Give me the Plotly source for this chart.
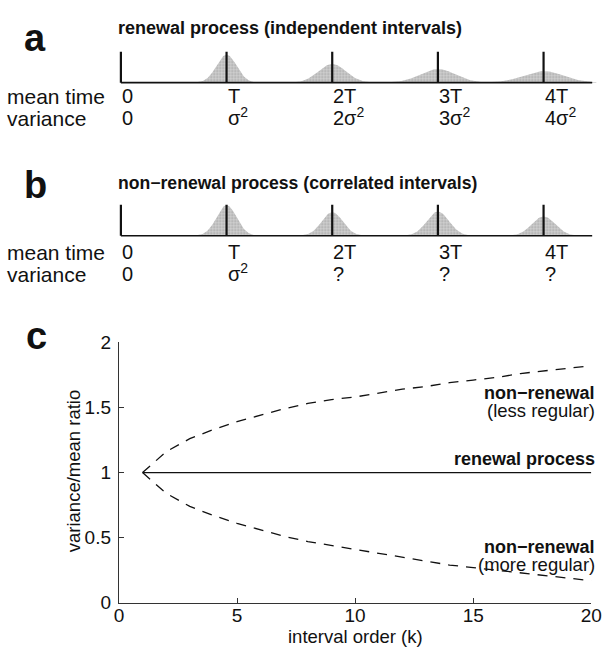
import numpy as np
import plotly.graph_objects as go

W, H = 613, 670
FONT = "Liberation Sans, Arial, Helvetica, sans-serif"

# ---------------- data ----------------
# panels a/b: interval means (in units of T) and schematic distributions
tick_pos = [0, 1, 2, 3, 4]
mean_labels = ["0", "T", "2T", "3T", "4T"]
var_labels_a = ["0", "σ<sup>2</sup>", "2σ<sup>2</sup>", "3σ<sup>2</sup>", "4σ<sup>2</sup>"]
var_labels_b = ["0", "σ<sup>2</sup>", "?", "?", "?"]

dist_means = [1, 2, 3, 4]
peaks_a = [0.90, 0.60, 0.44, 0.37]
sd_a = [0.095, 0.13, 0.165, 0.19]
peaks_b = [0.98, 0.76, 0.78, 0.62]
sd_b = [0.095, 0.10, 0.105, 0.11]

# panel c: variance/mean ratio vs interval order k
k_vals = [1, 1.3, 2, 3, 4, 5, 6, 7, 8, 9, 10, 11, 12, 13, 14, 15, 16, 17, 18, 19, 20]
upper = [1.00, 1.05, 1.16, 1.26, 1.33, 1.39, 1.44, 1.49, 1.53, 1.56, 1.58,
         1.61, 1.64, 1.66, 1.69, 1.71, 1.73, 1.76, 1.78, 1.80, 1.82]
lower = [1.00, 0.95, 0.84, 0.74, 0.67, 0.61, 0.56, 0.51, 0.47, 0.44, 0.41,
         0.38, 0.35, 0.32, 0.29, 0.27, 0.25, 0.23, 0.21, 0.19, 0.17]
renewal_k = [1, 20]
renewal_v = [1, 1]


def px(x):
    return x / W


def py(y):
    return 1 - y / H


fig = go.Figure()

# ---------------- panels a and b ----------------
def add_timeline(xa, ya, peaks, sds):
    for m, p, s in zip(dist_means, peaks, sds):
        xs = np.linspace(m - 3 * s, m + 3 * s, 80)
        ys = p * np.exp(-0.5 * ((xs - m) / s) ** 2)
        fig.add_trace(go.Scatter(
            x=xs, y=ys, mode="lines", xaxis=xa, yaxis=ya,
            line=dict(width=0, color="rgba(0,0,0,0)"),
            fill="tozeroy", fillcolor="#c4c4c4",
            fillpattern=dict(shape=".", fgcolor="#7a7a7a", bgcolor="#d2d2d2",
                             size=3, solidity=0.4),
            hoverinfo="skip"))
    fig.add_trace(go.Scatter(x=[0, 4.46], y=[0, 0], mode="lines", xaxis=xa, yaxis=ya,
                             line=dict(color="#111", width=1.6), hoverinfo="skip"))
    bx, by = [], []
    for t in tick_pos:
        bx += [t, t, None]
        by += [0, 1, None]
    fig.add_trace(go.Scatter(x=bx, y=by, mode="lines", xaxis=xa, yaxis=ya,
                             line=dict(color="#111", width=2.2), hoverinfo="skip"))


add_timeline("x2", "y2", peaks_a, sd_a)
add_timeline("x3", "y3", peaks_b, sd_b)

# ---------------- panel c ----------------
fig.add_trace(go.Scatter(x=k_vals, y=upper, mode="lines",
                         line=dict(color="#111", width=1.3, dash="10px,8px"), hoverinfo="skip"))
fig.add_trace(go.Scatter(x=k_vals, y=lower, mode="lines",
                         line=dict(color="#111", width=1.3, dash="10px,8px"), hoverinfo="skip"))
fig.add_trace(go.Scatter(x=renewal_k, y=renewal_v, mode="lines",
                         line=dict(color="#111", width=1.3), hoverinfo="skip"))

T_PX = 108.5
X0_PX = 119
BAR_H = 32


def timeline_axes(base_px):
    xr = [-0.04, 4.5]
    xd = [px(X0_PX + xr[0] * T_PX), px(X0_PX + xr[1] * T_PX)]
    yr = [-0.05, 1.1]
    yd = [py(base_px - yr[0] * BAR_H), py(base_px - yr[1] * BAR_H)]
    return xr, xd, yr, yd


BASE_A = 75
BASE_B = 233
xr, xd2, yr, yd2 = timeline_axes(BASE_A)
_, xd3, _, yd3 = timeline_axes(BASE_B)

hidden = dict(visible=False, showgrid=False, zeroline=False, fixedrange=True)
TICKF = dict(size=19, family=FONT, color="#111")

fig.update_layout(
    width=W, height=H,
    margin=dict(l=0, r=0, t=0, b=0),
    paper_bgcolor="white", plot_bgcolor="white",
    showlegend=False,
    font=dict(family=FONT, size=18.5, color="#111"),
    xaxis=dict(domain=[px(117), px(602)], range=[0, 20], anchor="y",
               showline=True, linecolor="#333", linewidth=1.3,
               ticks="inside", ticklen=5, tickwidth=1.2, tickcolor="#333",
               tickvals=[0, 5, 10, 15, 20], showgrid=False, zeroline=False,
               tickfont=TICKF, ticklabelstandoff=-5),
    yaxis=dict(domain=[py(612), py(343)], range=[0, 2], anchor="x",
               showline=True, linecolor="#333", linewidth=1.3,
               ticks="inside", ticklen=5, tickwidth=1.2, tickcolor="#333",
               tickvals=[0, 0.5, 1, 1.5, 2], ticktext=["0", "0.5", "1", "1.5", "2"],
               showgrid=False, zeroline=False,
               tickfont=TICKF, ticklabelstandoff=3),
    xaxis2=dict(domain=xd2, range=xr, anchor="y2", **hidden),
    yaxis2=dict(domain=yd2, range=yr, anchor="x2", **hidden),
    xaxis3=dict(domain=xd3, range=xr, anchor="y3", **hidden),
    yaxis3=dict(domain=yd3, range=yr, anchor="x3", **hidden),
)

ann = []


def text(x, y, s, xanchor="left", size=18.5, bold=False, angle=0):
    ann.append(dict(x=x, y=y, xref="paper", yref="paper", text=("<b>%s</b>" % s) if bold else s,
                    showarrow=False, xanchor=xanchor, yanchor="middle", textangle=angle,
                    font=dict(family=FONT, size=size, color="#111")))


# panel letters and titles
text(px(17), py(29), "a", size=38, bold=True)
text(px(17), py(181), "b", size=38, bold=True)
text(px(20), py(337), "c", size=38, bold=True)
text(px(114), py(19), "renewal process (independent intervals)", size=18, bold=True)
text(px(114), py(179), "non−renewal process (correlated intervals)", size=17.6, bold=True)

# row labels
for mrow, vrow, var_labels in ((89, 112, var_labels_a), (250, 273, var_labels_b)):
    text(px(0), py(mrow), "mean time", size=21)
    text(px(0), py(vrow), "variance", size=21)
    for t, ml, vl in zip(tick_pos, mean_labels, var_labels):
        xx = px(X0_PX - 1 + t * T_PX)
        text(xx, py(mrow), ml, size=20)
        text(xx, py(vrow - 2) if "sup" in vl else py(vrow), vl, size=20)

# panel c labels
RX = px(608)
text(RX, py(395), "non−renewal", xanchor="right", size=18, bold=True)
text(RX, py(413), "(less regular)", xanchor="right", size=18.5)
text(RX, py(464), "renewal process", xanchor="right", size=18, bold=True)
text(RX, py(554), "non−renewal", xanchor="right", size=18, bold=True)
text(RX, py(572), "(more regular)", xanchor="right", size=18.5)
text(px(359.5), py(647), "interval order (k)", xanchor="center", size=18.5)
text(px(70), py(476), "variance/mean ratio", xanchor="center", size=18.5, angle=-90)

fig.update_layout(annotations=ann)

fig.write_html("out.html", config={"displayModeBar": False})
